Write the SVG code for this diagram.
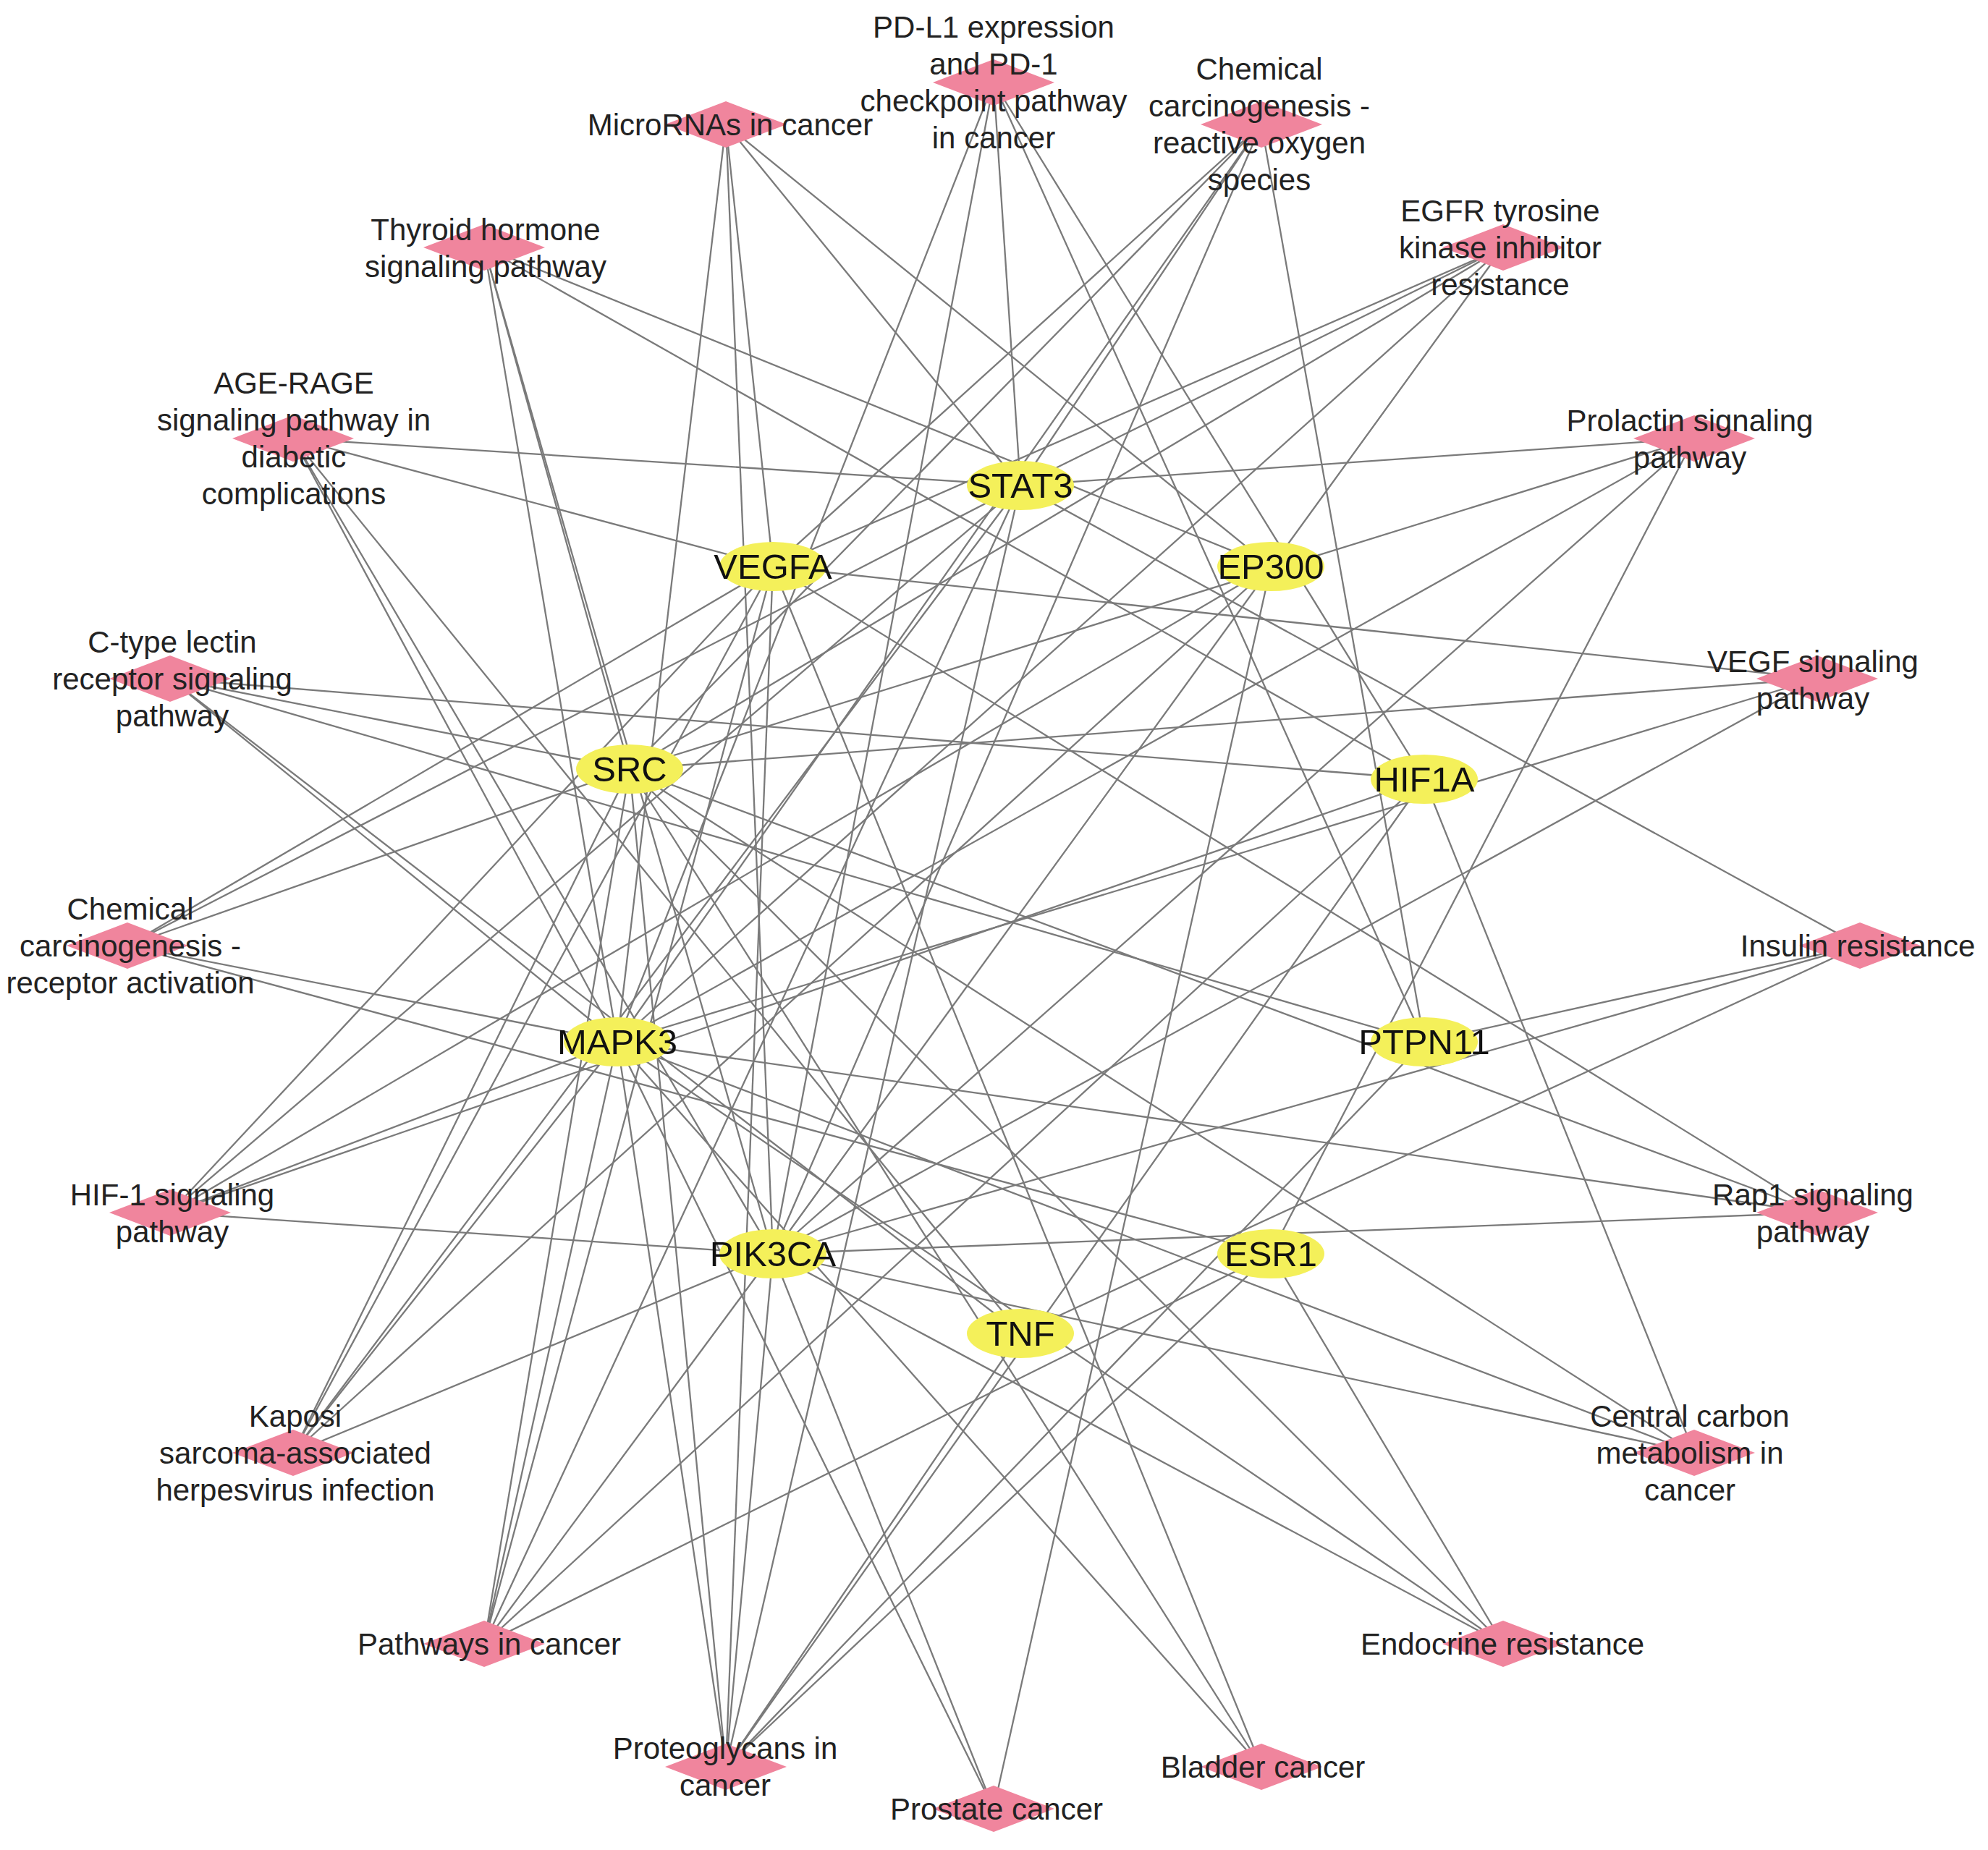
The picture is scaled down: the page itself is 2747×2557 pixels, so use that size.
<svg xmlns="http://www.w3.org/2000/svg" xmlns:xlink="http://www.w3.org/1999/xlink" width="2747" height="2557" viewBox="0 0 2747 2557">
<style>
.e{stroke:#7a7a7a;stroke-width:2.3;fill:none}
.g{fill:#F4F05A}
.p{fill:#F0859D}
.gt{font-family:"Liberation Sans",Arial,sans-serif;font-size:49px;fill:#111;text-anchor:middle}
.pt{font-family:"Liberation Sans",Arial,sans-serif;font-size:42px;fill:#222;text-anchor:middle}
</style>
<defs>
<polygon id="dia" points="-84,0 0,-32 84,0 0,32"/>
<ellipse id="ell" cx="0" cy="0" rx="74" ry="34"/>
</defs>
<rect width="2747" height="2557" fill="#fff"/>
<g id="edges">
<line class="e" x1="1373" y1="114" x2="1410" y2="671"/>
<line class="e" x1="1373" y1="114" x2="1968" y2="1077"/>
<line class="e" x1="1373" y1="114" x2="853" y2="1440"/>
<line class="e" x1="1373" y1="114" x2="1068" y2="1733"/>
<line class="e" x1="1373" y1="114" x2="1968" y2="1440"/>
<line class="e" x1="1003" y1="172" x2="853" y2="1440"/>
<line class="e" x1="1003" y1="172" x2="1068" y2="1733"/>
<line class="e" x1="1003" y1="172" x2="1068" y2="783"/>
<line class="e" x1="1003" y1="172" x2="1410" y2="671"/>
<line class="e" x1="1003" y1="172" x2="1756" y2="783"/>
<line class="e" x1="1743" y1="172" x2="1068" y2="783"/>
<line class="e" x1="1743" y1="172" x2="870" y2="1063"/>
<line class="e" x1="1743" y1="172" x2="853" y2="1440"/>
<line class="e" x1="1743" y1="172" x2="1068" y2="1733"/>
<line class="e" x1="1743" y1="172" x2="1968" y2="1440"/>
<line class="e" x1="1743" y1="172" x2="1410" y2="671"/>
<line class="e" x1="669" y1="342" x2="1756" y2="783"/>
<line class="e" x1="669" y1="342" x2="1968" y2="1077"/>
<line class="e" x1="669" y1="342" x2="853" y2="1440"/>
<line class="e" x1="669" y1="342" x2="870" y2="1063"/>
<line class="e" x1="669" y1="342" x2="1068" y2="1733"/>
<line class="e" x1="2077" y1="342" x2="1068" y2="783"/>
<line class="e" x1="2077" y1="342" x2="1410" y2="671"/>
<line class="e" x1="2077" y1="342" x2="870" y2="1063"/>
<line class="e" x1="2077" y1="342" x2="853" y2="1440"/>
<line class="e" x1="2077" y1="342" x2="1068" y2="1733"/>
<line class="e" x1="405" y1="606" x2="1410" y2="671"/>
<line class="e" x1="405" y1="606" x2="1068" y2="783"/>
<line class="e" x1="405" y1="606" x2="853" y2="1440"/>
<line class="e" x1="405" y1="606" x2="1068" y2="1733"/>
<line class="e" x1="405" y1="606" x2="1410" y2="1843"/>
<line class="e" x1="2341" y1="606" x2="1410" y2="671"/>
<line class="e" x1="2341" y1="606" x2="870" y2="1063"/>
<line class="e" x1="2341" y1="606" x2="853" y2="1440"/>
<line class="e" x1="2341" y1="606" x2="1068" y2="1733"/>
<line class="e" x1="2341" y1="606" x2="1756" y2="1733"/>
<line class="e" x1="235" y1="938" x2="1968" y2="1077"/>
<line class="e" x1="235" y1="938" x2="870" y2="1063"/>
<line class="e" x1="235" y1="938" x2="1968" y2="1440"/>
<line class="e" x1="235" y1="938" x2="853" y2="1440"/>
<line class="e" x1="235" y1="938" x2="1410" y2="1843"/>
<line class="e" x1="2511" y1="938" x2="1068" y2="783"/>
<line class="e" x1="2511" y1="938" x2="870" y2="1063"/>
<line class="e" x1="2511" y1="938" x2="853" y2="1440"/>
<line class="e" x1="2511" y1="938" x2="1068" y2="1733"/>
<line class="e" x1="176" y1="1307" x2="1068" y2="783"/>
<line class="e" x1="176" y1="1307" x2="1410" y2="671"/>
<line class="e" x1="176" y1="1307" x2="870" y2="1063"/>
<line class="e" x1="176" y1="1307" x2="853" y2="1440"/>
<line class="e" x1="176" y1="1307" x2="1756" y2="1733"/>
<line class="e" x1="2570" y1="1307" x2="1410" y2="671"/>
<line class="e" x1="2570" y1="1307" x2="1968" y2="1440"/>
<line class="e" x1="2570" y1="1307" x2="1068" y2="1733"/>
<line class="e" x1="2570" y1="1307" x2="1410" y2="1843"/>
<line class="e" x1="235" y1="1676" x2="1968" y2="1077"/>
<line class="e" x1="235" y1="1676" x2="853" y2="1440"/>
<line class="e" x1="235" y1="1676" x2="1756" y2="783"/>
<line class="e" x1="235" y1="1676" x2="1410" y2="671"/>
<line class="e" x1="235" y1="1676" x2="1068" y2="783"/>
<line class="e" x1="235" y1="1676" x2="1068" y2="1733"/>
<line class="e" x1="2511" y1="1676" x2="853" y2="1440"/>
<line class="e" x1="2511" y1="1676" x2="1068" y2="1733"/>
<line class="e" x1="2511" y1="1676" x2="870" y2="1063"/>
<line class="e" x1="2511" y1="1676" x2="1068" y2="783"/>
<line class="e" x1="405" y1="2008" x2="870" y2="1063"/>
<line class="e" x1="405" y1="2008" x2="1068" y2="783"/>
<line class="e" x1="405" y1="2008" x2="853" y2="1440"/>
<line class="e" x1="405" y1="2008" x2="1410" y2="671"/>
<line class="e" x1="405" y1="2008" x2="1756" y2="783"/>
<line class="e" x1="405" y1="2008" x2="1068" y2="1733"/>
<line class="e" x1="2341" y1="2008" x2="1968" y2="1077"/>
<line class="e" x1="2341" y1="2008" x2="853" y2="1440"/>
<line class="e" x1="2341" y1="2008" x2="870" y2="1063"/>
<line class="e" x1="2341" y1="2008" x2="1068" y2="1733"/>
<line class="e" x1="669" y1="2272" x2="870" y2="1063"/>
<line class="e" x1="669" y1="2272" x2="853" y2="1440"/>
<line class="e" x1="669" y1="2272" x2="1068" y2="783"/>
<line class="e" x1="669" y1="2272" x2="1410" y2="671"/>
<line class="e" x1="669" y1="2272" x2="1068" y2="1733"/>
<line class="e" x1="669" y1="2272" x2="1968" y2="1077"/>
<line class="e" x1="669" y1="2272" x2="1756" y2="1733"/>
<line class="e" x1="2077" y1="2272" x2="1756" y2="1733"/>
<line class="e" x1="2077" y1="2272" x2="870" y2="1063"/>
<line class="e" x1="2077" y1="2272" x2="853" y2="1440"/>
<line class="e" x1="2077" y1="2272" x2="1068" y2="1733"/>
<line class="e" x1="1003" y1="2442" x2="1410" y2="671"/>
<line class="e" x1="1003" y1="2442" x2="1068" y2="783"/>
<line class="e" x1="1003" y1="2442" x2="870" y2="1063"/>
<line class="e" x1="1003" y1="2442" x2="853" y2="1440"/>
<line class="e" x1="1003" y1="2442" x2="1068" y2="1733"/>
<line class="e" x1="1003" y1="2442" x2="1968" y2="1077"/>
<line class="e" x1="1003" y1="2442" x2="1968" y2="1440"/>
<line class="e" x1="1003" y1="2442" x2="1756" y2="1733"/>
<line class="e" x1="1003" y1="2442" x2="1410" y2="1843"/>
<line class="e" x1="1743" y1="2442" x2="1068" y2="783"/>
<line class="e" x1="1743" y1="2442" x2="870" y2="1063"/>
<line class="e" x1="1743" y1="2442" x2="853" y2="1440"/>
<line class="e" x1="1373" y1="2500" x2="1068" y2="1733"/>
<line class="e" x1="1373" y1="2500" x2="853" y2="1440"/>
<line class="e" x1="1373" y1="2500" x2="1756" y2="783"/>
</g>
<g id="pathways">
<g id="n-pdl1"><use xlink:href="#dia" class="p" x="1373" y="114"/><text class="pt"><tspan x="1373" y="52">PD-L1 expression</tspan><tspan x="1373" y="103">and PD-1</tspan><tspan x="1373" y="154">checkpoint pathway</tspan><tspan x="1373" y="205">in cancer</tspan></text></g>
<g id="n-mirna"><use xlink:href="#dia" class="p" x="1003" y="172"/><text class="pt" x="1009" y="187">MicroRNAs in cancer</text></g>
<g id="n-chemros"><use xlink:href="#dia" class="p" x="1743" y="172"/><text class="pt"><tspan x="1740" y="110">Chemical</tspan><tspan x="1740" y="161">carcinogenesis -</tspan><tspan x="1740" y="212">reactive oxygen</tspan><tspan x="1740" y="263">species</tspan></text></g>
<g id="n-thyroid"><use xlink:href="#dia" class="p" x="669" y="342"/><text class="pt"><tspan x="671" y="332">Thyroid hormone</tspan><tspan x="671" y="383">signaling pathway</tspan></text></g>
<g id="n-egfr"><use xlink:href="#dia" class="p" x="2077" y="342"/><text class="pt"><tspan x="2073" y="306">EGFR tyrosine</tspan><tspan x="2073" y="357">kinase inhibitor</tspan><tspan x="2073" y="408">resistance</tspan></text></g>
<g id="n-agerage"><use xlink:href="#dia" class="p" x="405" y="606"/><text class="pt"><tspan x="406" y="544">AGE-RAGE</tspan><tspan x="406" y="595">signaling pathway in</tspan><tspan x="406" y="646">diabetic</tspan><tspan x="406" y="697">complications</tspan></text></g>
<g id="n-prolactin"><use xlink:href="#dia" class="p" x="2341" y="606"/><text class="pt"><tspan x="2335" y="596">Prolactin signaling</tspan><tspan x="2335" y="647">pathway</tspan></text></g>
<g id="n-ctype"><use xlink:href="#dia" class="p" x="235" y="938"/><text class="pt"><tspan x="238" y="902">C-type lectin</tspan><tspan x="238" y="953">receptor signaling</tspan><tspan x="238" y="1004">pathway</tspan></text></g>
<g id="n-vegf"><use xlink:href="#dia" class="p" x="2511" y="938"/><text class="pt"><tspan x="2505" y="929">VEGF signaling</tspan><tspan x="2505" y="980">pathway</tspan></text></g>
<g id="n-chemrec"><use xlink:href="#dia" class="p" x="176" y="1307"/><text class="pt"><tspan x="180" y="1271">Chemical</tspan><tspan x="180" y="1322">carcinogenesis -</tspan><tspan x="180" y="1373">receptor activation</tspan></text></g>
<g id="n-insulin"><use xlink:href="#dia" class="p" x="2570" y="1307"/><text class="pt" x="2567" y="1322">Insulin resistance</text></g>
<g id="n-hif1sig"><use xlink:href="#dia" class="p" x="235" y="1676"/><text class="pt"><tspan x="238" y="1666">HIF-1 signaling</tspan><tspan x="238" y="1717">pathway</tspan></text></g>
<g id="n-rap1"><use xlink:href="#dia" class="p" x="2511" y="1676"/><text class="pt"><tspan x="2505" y="1666">Rap1 signaling</tspan><tspan x="2505" y="1717">pathway</tspan></text></g>
<g id="n-kaposi"><use xlink:href="#dia" class="p" x="405" y="2008"/><text class="pt"><tspan x="408" y="1972">Kaposi</tspan><tspan x="408" y="2023">sarcoma-associated</tspan><tspan x="408" y="2074">herpesvirus infection</tspan></text></g>
<g id="n-central"><use xlink:href="#dia" class="p" x="2341" y="2008"/><text class="pt"><tspan x="2335" y="1972">Central carbon</tspan><tspan x="2335" y="2023">metabolism in</tspan><tspan x="2335" y="2074">cancer</tspan></text></g>
<g id="n-pathways"><use xlink:href="#dia" class="p" x="669" y="2272"/><text class="pt" x="676" y="2287">Pathways in cancer</text></g>
<g id="n-endocrine"><use xlink:href="#dia" class="p" x="2077" y="2272"/><text class="pt" x="2076" y="2287">Endocrine resistance</text></g>
<g id="n-proteo"><use xlink:href="#dia" class="p" x="1003" y="2442"/><text class="pt"><tspan x="1002" y="2431">Proteoglycans in</tspan><tspan x="1002" y="2482">cancer</tspan></text></g>
<g id="n-bladder"><use xlink:href="#dia" class="p" x="1743" y="2442"/><text class="pt" x="1745" y="2457">Bladder cancer</text></g>
<g id="n-prostate"><use xlink:href="#dia" class="p" x="1373" y="2500"/><text class="pt" x="1377" y="2515">Prostate cancer</text></g>
</g>
<g id="genes">
<g id="n-STAT3"><use xlink:href="#ell" class="g" x="1410" y="671"/><text class="gt" x="1410" y="688">STAT3</text></g>
<g id="n-VEGFA"><use xlink:href="#ell" class="g" x="1068" y="783"/><text class="gt" x="1068" y="800">VEGFA</text></g>
<g id="n-EP300"><use xlink:href="#ell" class="g" x="1756" y="783"/><text class="gt" x="1756" y="800">EP300</text></g>
<g id="n-SRC"><use xlink:href="#ell" class="g" x="870" y="1063"/><text class="gt" x="870" y="1080">SRC</text></g>
<g id="n-HIF1A"><use xlink:href="#ell" class="g" x="1968" y="1077"/><text class="gt" x="1968" y="1094">HIF1A</text></g>
<g id="n-MAPK3"><use xlink:href="#ell" class="g" x="853" y="1440"/><text class="gt" x="853" y="1457">MAPK3</text></g>
<g id="n-PTPN11"><use xlink:href="#ell" class="g" x="1968" y="1440"/><text class="gt" x="1968" y="1457">PTPN11</text></g>
<g id="n-PIK3CA"><use xlink:href="#ell" class="g" x="1068" y="1733"/><text class="gt" x="1068" y="1750">PIK3CA</text></g>
<g id="n-ESR1"><use xlink:href="#ell" class="g" x="1756" y="1733"/><text class="gt" x="1756" y="1750">ESR1</text></g>
<g id="n-TNF"><use xlink:href="#ell" class="g" x="1410" y="1843"/><text class="gt" x="1410" y="1860">TNF</text></g>
</g>
</svg>
